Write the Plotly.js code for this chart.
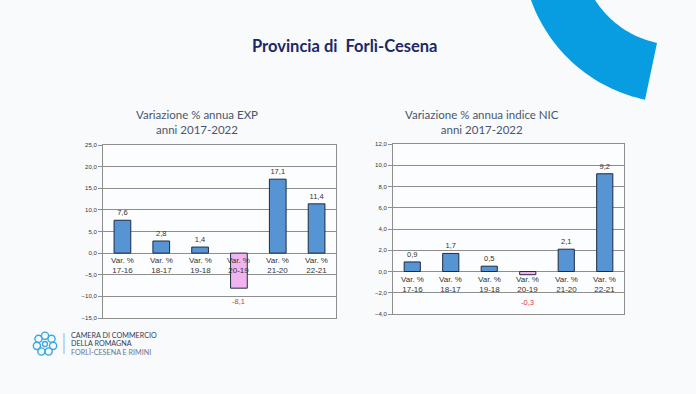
<!DOCTYPE html>
<html>
<head>
<meta charset="utf-8">
<script src="https://cdn.plot.ly/plotly-3.0.1.min.js"></script>
<style>html,body{margin:0;padding:0;background:#f8fafc;}#chart{width:696px;height:394px;}</style>
</head>
<body>
<div id="chart"></div>
<script>
// ---- data ----
const categories = ["Var. %<br>17-16", "Var. %<br>18-17", "Var. %<br>19-18", "Var. %<br>20-19", "Var. %<br>21-20", "Var. %<br>22-21"];
const expValues = [7.6, 2.8, 1.4, -8.1, 17.1, 11.4];
const nicValues = [0.9, 1.7, 0.5, -0.3, 2.1, 9.2];
const mainTitle = "Provincia di  Forlì-Cesena";
const expTitle = "Variazione % annua EXP<br>anni 2017-2022";
const nicTitle = "Variazione % annua indice NIC<br>anni 2017-2022";
const logoLines = ["CAMERA DI COMMERCIO", "DELLA ROMAGNA", "FORLÌ-CESENA E RIMINI"];

const W = 696, H = 394;
const px = x => x / W;
const py = y => 1 - y / H;
const fmt = v => v.toFixed(1).replace('.', ',');
const idx = categories.map((c, i) => i);

const BLUE = '#5694d3', PINK = '#f2b4ee', EDGE = '#1e2b45';
const LABEL_FONT = 'Liberation Sans, Arial';

function barTrace(vals, xa, ya, width) {
  return {
    type: 'bar', x: idx, y: vals, xaxis: xa, yaxis: ya, width: width,
    marker: {color: vals.map(v => v < 0 ? PINK : BLUE), line: {color: EDGE, width: 1}},
    text: vals.map(v => v < 0 ? '' : fmt(v)), textposition: 'outside', cliponaxis: false, constraintext: 'none',
    textfont: {family: LABEL_FONT, size: 7.5, color: '#333333'},
    hoverinfo: 'skip', showlegend: false
  };
}

const gridCol = '#8e8e8e';
function yAx(domain, range, dtick) {
  return {
    domain: domain, range: range, dtick: dtick, tick0: 0, tickformat: '.1f',
    showgrid: true, gridcolor: gridCol, gridwidth: 1, zeroline: true, zerolinecolor: gridCol, zerolinewidth: 1,
    showline: true, linecolor: gridCol, mirror: true, ticks: 'outside', ticklen: 4, tickcolor: gridCol,
    tickfont: {family: LABEL_FONT, size: 6, color: '#333333'}, automargin: false, fixedrange: true
  };
}
function xAx(domain, anchor) {
  return {
    domain: domain, anchor: anchor, range: [-0.5, 5.5], showticklabels: false, showgrid: false, zeroline: false,
    showline: true, linecolor: gridCol, mirror: true, ticks: '', automargin: false, fixedrange: true
  };
}

const annotations = [];
function catLabels(xref, yref) {
  categories.forEach((c, i) => annotations.push({
    x: i, y: 0, xref: xref, yref: yref, text: c, showarrow: false, yanchor: 'top', yshift: -1,
    font: {family: LABEL_FONT, size: 8, color: '#333333'}
  }));
}
catLabels('x', 'y');
catLabels('x2', 'y2');

// negative value labels: below the bar, or below the category label if the bar is short
function negLabels(vals, xref, yref, pxPerUnit) {
  vals.forEach((v, i) => {
    if (v >= 0) return;
    const barPx = -v * pxPerUnit;
    const below = Math.max(barPx + 13, 31);
    annotations.push({x: i, y: 0, xref: xref, yref: yref, text: fmt(v), showarrow: false,
      yanchor: 'middle', yshift: -below, font: {family: LABEL_FONT, size: 7.5, color: '#d9363a'}});
  });
}
negLabels(expValues, 'x', 'y', 173 / 40);
negLabels(nicValues, 'x2', 'y2', 170 / 16);

const titleFont = {family: 'Lato, Open Sans, sans-serif', size: 11.5, color: '#4a556e'};
annotations.push({x: px(197), y: py(122), xref: 'paper', yref: 'paper', text: expTitle, showarrow: false,
  font: titleFont, align: 'center', xanchor: 'center', yanchor: 'middle'});
annotations.push({x: px(482), y: py(122), xref: 'paper', yref: 'paper', text: nicTitle, showarrow: false,
  font: titleFont, align: 'center', xanchor: 'center', yanchor: 'middle'});
annotations.push({x: px(345), y: py(46), xref: 'paper', yref: 'paper', text: '<b>' + mainTitle + '</b>', showarrow: false,
  font: {family: 'Lato, Open Sans, sans-serif', size: 16.5, color: '#1d2766'}, xanchor: 'center', yanchor: 'middle'});

// logo text
const logoY = [335.5, 343.5, 352];
logoLines.forEach((t, i) => annotations.push({
  x: px(69), y: py(logoY[i]), xref: 'paper', yref: 'paper', text: t, showarrow: false,
  xanchor: 'left', yanchor: 'middle',
  font: {family: 'Lato, Open Sans, sans-serif', size: 7.2, color: i < 2 ? '#363b52' : '#6b7791'}
}));

const shapes = [];
// decorative arc top right
(function () {
  const cx = 677, cy = -52, ri = 97, ro = 155;
  const a0 = 101.9 * Math.PI / 180, a1 = 200 * Math.PI / 180;
  const n = 60; let pts = [];
  for (let k = 0; k <= n; k++) { const a = a0 + (a1 - a0) * k / n; pts.push([cx + ro * Math.cos(a), cy + ro * Math.sin(a)]); }
  for (let k = n; k >= 0; k--) { const a = a0 + (a1 - a0) * k / n; pts.push([cx + ri * Math.cos(a), cy + ri * Math.sin(a)]); }
  const path = 'M' + pts.map(p => px(p[0]).toFixed(5) + ',' + py(p[1]).toFixed(5)).join(' L') + ' Z';
  shapes.push({type: 'path', xref: 'paper', yref: 'paper', path: path, fillcolor: '#089de0', line: {width: 0}, layer: 'below'});
})();
// logo icon
(function () {
  const cx = 45, cy = 344, R = 8.3, r = 3.6, col = '#3aa7df';
  for (let k = 0; k < 7; k++) {
    const a = -Math.PI / 2 + k * 2 * Math.PI / 7;
    const x = cx + R * Math.cos(a), y = cy + R * Math.sin(a);
    shapes.push({type: 'circle', xref: 'paper', yref: 'paper', x0: px(x - r), x1: px(x + r), y0: py(y + r), y1: py(y - r),
      line: {color: col, width: 1.4}, fillcolor: 'rgba(0,0,0,0)'});
  }
  shapes.push({type: 'circle', xref: 'paper', yref: 'paper', x0: px(cx - 2.5), x1: px(cx + 2.5), y0: py(cy + 2.5), y1: py(cy - 2.5),
    line: {color: col, width: 1.3}, fillcolor: 'rgba(0,0,0,0)'});
  shapes.push({type: 'line', xref: 'paper', yref: 'paper', x0: px(64), x1: px(64), y0: py(333), y1: py(354),
    line: {color: '#6cc0ea', width: 1}});
})();

const layout = {
  width: W, height: H, margin: {l: 0, r: 0, t: 0, b: 0},
  paper_bgcolor: '#f8fafc', plot_bgcolor: '#fcfdfe', separators: ',.',
  showlegend: false, bargap: 0.57,
  xaxis: xAx([px(103), px(336)], 'y'),
  yaxis: Object.assign(yAx([py(318), py(145)], [-15, 25], 5), {anchor: 'x'}),
  xaxis2: xAx([px(393), px(624)], 'y2'),
  yaxis2: Object.assign(yAx([py(314), py(144)], [-4, 12], 2), {anchor: 'x2'}),
  annotations: annotations, shapes: shapes
};

Plotly.newPlot('chart', [barTrace(expValues, 'x', 'y', 0.43), barTrace(nicValues, 'x2', 'y2', 0.42)], layout,
  {displayModeBar: false, staticPlot: true});
</script>
</body>
</html>
